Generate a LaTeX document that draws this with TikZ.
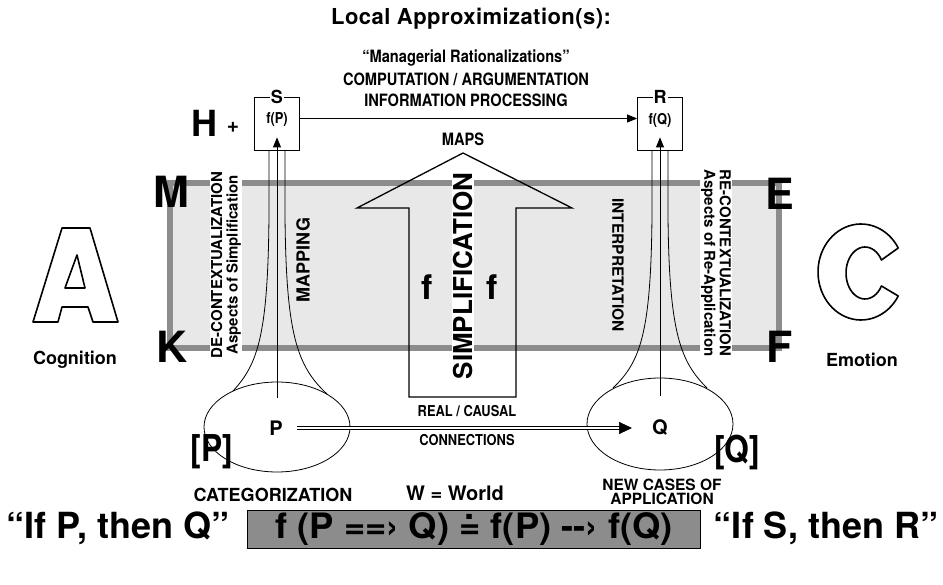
\documentclass[tikz,border=0pt]{standalone}
\usepackage{fontspec}
\setmainfont{TeX Gyre Heros}
\newfontfamily\cnd[FakeStretch=0.86]{TeX Gyre Heros}
\newfontfamily\wde[FakeStretch=1.04]{TeX Gyre Heros}
\usetikzlibrary{arrows.meta,shapes.geometric}
\newcommand{\sz}[1]{\fontsize{#1}{#1}\selectfont}
\newcommand{\dotEq}{\ooalign{=\cr\hfil\raisebox{0.55em}{.}\hfil\cr}}

\begin{document}
\begin{tikzpicture}[x=1pt, y=-1pt,
    % Stile per le etichette strette in maiuscolo
    caps/.style={font=\cnd\bfseries\sz{15}, inner sep=0pt, align=center},
    % Stile per le righe sotto il titolo
    subtitle/.style={font=\cnd\bfseries\sz{17}, inner sep=0pt},
    % Stile per le lettere grandi agli angoli della fascia
    bigletter/.style={font=\bfseries\sz{43}, inner sep=0pt},
    % Stile per i testi verticali con fondo bianco
    sidetext/.style={font=\bfseries\fontsize{15}{15.5}\selectfont, align=center, fill=white, inner sep=1.5pt},
    % Stile per i riquadri S e R
    funcbox/.style={draw, line width=0.8pt, minimum width=45, minimum height=53, inner sep=0pt},
    % Stile per le frecce semplici
    arr/.style={-{Triangle[length=10pt,width=8pt]}, line width=0.8pt},
    % Stile per le frasi in basso
    ifthen/.style={font=\bfseries\sz{36}, inner sep=0pt}
]
\useasboundingbox (0,0) rectangle (943,585);

% --- FASCIA GRIGIA ---
\draw[draw=black!45, fill=black!9, line width=6pt] (169.5,183.5) rectangle (779,348.5);

% --- TESTI VERTICALI ---
\node[sidetext, rotate=90] (decon) at (226,265) {DE-CONTEXTUALIZATION\\Aspects of Simplification};
\node[sidetext, rotate=-90] (recon) at (716,263) {RE-CONTEXTUALIZATION\\Aspects of Re-Application};
\node[font=\bfseries\sz{18}, rotate=90, inner sep=0pt] (mapping) at (303,260) {MAPPING};
\node[font=\bfseries\sz{15.5}, rotate=-90, inner sep=0pt] (interp) at (618,265) {INTERPRETATION};

% --- FRECCIA GRANDE ---
\draw[line width=1.3pt] (409,397) -- (409,208) -- (357,208) -- (463,153)
    -- (572,208) -- (516,208) -- (516,397) -- cycle;
\node[font=\bfseries\sz{26}, rotate=90, fill=white, inner sep=1.5pt] (simpl) at (463,276) {SIMPLIFICATION};
\node[font=\bfseries\sz{34}, inner sep=0pt] (fleft) at (427,287) {f};
\node[font=\bfseries\sz{34}, inner sep=0pt] (fright) at (492,287) {f};
\node[caps, font=\cnd\bfseries\sz{17}] (maps) at (463,139) {MAPS};

% --- LETTERE DELLA FASCIA ---
\node[bigletter] (M) at (171,192) {M};
\node[bigletter] (K) at (172,347) {K};
\node[bigletter] (E) at (780,194) {E};
\node[bigletter] (F) at (780,347) {F};

% --- TITOLO ---
\node[font=\bfseries\sz{22}\addfontfeatures{LetterSpace=2}, inner sep=0pt] (title) at (471,19) {Local Approximization(s):};
\node[subtitle] (manag) at (466,58) {“Managerial Rationalizations”};
\node[subtitle] (comput) at (466,79) {COMPUTATION / ARGUMENTATION};
\node[subtitle] (inform) at (466,100) {INFORMATION PROCESSING};

% --- RIQUADRI S E R ---
\node[funcbox] (boxS) at (277,123.5) {};
\node[font=\cnd\bfseries\sz{15}] (fP) at (277,120) {f(P)};
\node[font=\bfseries\sz{18}, fill=white, inner sep=1pt] (labS) at (boxS.north) {S};
\node[funcbox] (boxR) at (660,123.5) {};
\node[font=\cnd\bfseries\sz{15}] (fQ) at (660,120) {f(Q)};
\node[font=\bfseries\sz{18}, fill=white, inner sep=1pt] (labR) at (boxR.north) {R};
\node[font=\bfseries\sz{36}, inner sep=0pt] (H) at (204,123) {H};
\node[font=\bfseries\sz{21}, inner sep=0pt] (plus) at (233,127) {+};

% --- ELLISSI P E Q ---
\node[ellipse, draw, line width=0.8pt, minimum width=146, minimum height=90] (ellP) at (277,427) {};
\node[ellipse, draw, line width=0.8pt, minimum width=146, minimum height=92] (ellQ) at (660,424) {};
\node[font=\bfseries\sz{20}, inner sep=1pt] (labP) at (276,428) {P};
\node[font=\bfseries\sz{20}, inner sep=1pt] (labQ) at (660,428) {Q};
\node[font=\cnd\bfseries\sz{37}, inner sep=0pt] (bP) at (212,452) {[P]};
\node[font=\cnd\bfseries\sz{37}, inner sep=0pt] (bQ) at (737,452) {[Q]};

% --- IMBUTI ---
\draw[line width=0.8pt] (269,150) -- (269,215) .. controls (268,335) and (258,364) .. (233,391);
\draw[line width=0.8pt] (285,150) -- (285,215) .. controls (286,335) and (297,366) .. (327,394);
\draw[line width=0.8pt] (652,150) -- (652,215) .. controls (651,335) and (640,362) .. (613,388);
\draw[line width=0.8pt] (668,150) -- (668,215) .. controls (669,335) and (681,362) .. (707,388);

% --- FRECCE ---
\coordinate (pTop) at (277,398);
\coordinate (qTop) at (660,396);
\draw[arr] (pTop) -- ([yshift=13pt]boxS.south);
\draw[arr] (qTop) -- ([yshift=13pt]boxR.south);
\draw[arr] ([yshift=5pt]boxS.east) -- ([yshift=5pt]boxR.west);
\draw[double, double distance=2.2pt, line width=0.7pt, shorten <=13pt, shorten >=31pt] (labP.east) -- (labQ.west);
\draw[-{Triangle[length=13pt,width=12pt]}, line width=0.7pt] ([xshift=-31pt]labQ.west) -- ([xshift=-19pt]labQ.west);
\node[caps] (real) at (467,411) {REAL / CAUSAL};
\node[caps] (conn) at (467,440) {CONNECTIONS};

% --- LETTERE A E C ---
\draw[line width=1.6pt, line join=round] (33,322) -- (62,228) -- (90,228) -- (118,322) -- (93,322)
    -- (88,307) -- (62,307) -- (58,322) -- cycle;
\draw[line width=1.6pt, line join=round] (77,255) -- (65,288) -- (85,288) -- cycle;
\node[font=\bfseries\sz{18}, inner sep=0pt] (cogn) at (75,360) {Cognition};
\draw[line width=1.6pt, line join=round] plot[domain=30:330, samples=60] ({861+43*cos(\x)},{272-48*sin(\x)})
    -- plot[domain=330:30, samples=40] ({865+19*cos(\x)},{273-26*sin(\x)}) -- cycle;
\node[font=\bfseries\sz{18}, inner sep=0pt] (emot) at (862,360) {Emotion};

% --- RIGA IN BASSO ---
\node[font=\bfseries\sz{18}, inner sep=0pt] (categ) at (273,495) {CATEGORIZATION};
\node[font=\bfseries\sz{20}, inner sep=0pt] (world) at (455,493) {W = World};
\node[font=\bfseries\fontsize{15.5}{14.5}\selectfont, align=center, inner sep=0pt] (newcases) at (662,492) {NEW CASES OF\\APPLICATION};
\node[ifthen] (ifP) at (118,528) {“If P, then Q”};
\node[draw, line width=1pt, fill=black!45, minimum width=453, minimum height=38,
    font=\wde\bfseries\sz{35}, inner sep=0pt] (formula) at (474,529) {f (P ==› Q) \dotEq{} f(P) -{}-› f(Q)};
\node[ifthen] (ifS) at (826,528) {“If S, then R”};

\end{tikzpicture}
\end{document}
